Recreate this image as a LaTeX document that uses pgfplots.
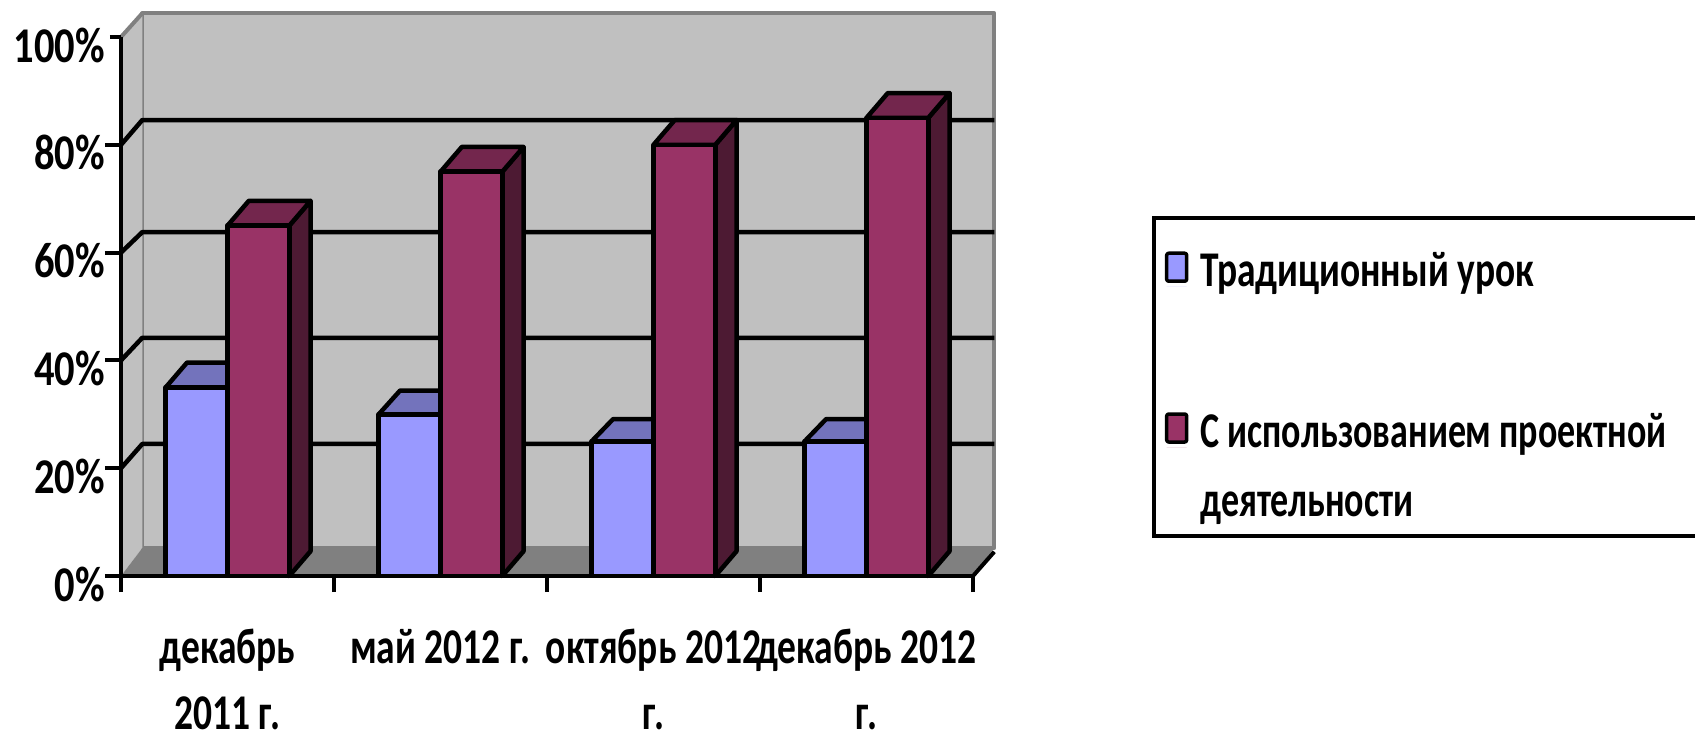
\documentclass[border=0pt]{standalone}
\usepackage{fontspec}
\setmainfont{Carlito}[BoldFont=Carlito Bold]
\usepackage{pgfplots}
\usepackage{pgfplotstable}
\pgfplotsset{compat=1.18}

\definecolor{wall}{HTML}{C0C0C0}
\definecolor{floorc}{HTML}{808080}
\definecolor{bluef}{HTML}{9999FF}
\definecolor{bluet}{HTML}{7373BC}
\definecolor{redf}{HTML}{993366}
\definecolor{redt}{HTML}{73264D}
\definecolor{reds}{HTML}{4D1A33}

\newcommand{\lbl}[1]{\scalebox{0.81}[1]{#1}}
\newcommand{\two}[2]{\raisebox{0pt}[\height][0pt]{\scalebox{0.75}[1]{\begin{tabular}[t]{@{}c@{}}#1\\#2\end{tabular}}}}

\pgfplotstableread{
x   trad  proj
0.5 35    65
1.5 30    75
2.5 25    80
3.5 25    85
}\shares

\begin{document}
\begin{tikzpicture}[x=1pt,y=1pt]
\path[use as bounding box] (0,0) rectangle (1695,740);
\begin{axis}[
    at={(121pt,164pt)}, anchor=south west,
    width=852pt, height=539pt, scale only axis,
    xmin=0, xmax=4, ymin=0, ymax=100,
    clip=false, axis on top,
    axis x line=bottom, axis y line=left,
    axis line style={-, line width=4.5pt, black},
    every axis plot/.append style={line join=round},
    tick align=outside,
    major tick length=16pt,
    xtick={0,1,2,3,4},
    x tick label as interval,
    xticklabels={\two{декабрь}{2011 г.},\two{май 2012 г.}{},\two{октябрь 2012}{г.},\two{декабрь 2012}{г.}},
    ytick={0,20,40,60,80,100},
    yticklabels={\lbl{0\%},\lbl{20\%},\lbl{40\%},\lbl{60\%},\lbl{80\%},\lbl{100\%}},
    tick style={line width=4pt, black},
    ytick style={shorten <=5pt},
    xticklabel style={inner sep=0pt, anchor=north, yshift=-25.5pt},
    yticklabel style={inner sep=0pt, anchor=east, xshift=0pt, yshift=-8pt},
    every tick label/.append style={font=\fontsize{50}{66}\selectfont\bfseries},
    legend style={
        at={(1.21,0.6675)}, anchor=north west,
        draw=black, line width=4pt, inner xsep=11pt, inner ysep=12pt,
        font=\fontsize{50}{69}\selectfont\bfseries,
        row sep=118pt,
        nodes={inner sep=0pt, text depth=},
        cells={anchor=base west},
    },
    legend image code/.code={
        \path[draw=none] (0pt,0pt) -- (20pt,0pt);
        \path[draw=black, line width=3.5pt, rounded corners=2pt, #1] (0pt,5pt) rectangle (20pt,33pt);
    },
]
% back wall and floor
\addplot[forget plot, fill=wall, draw=floorc, line width=4pt] coordinates {(0.1,5.2) (0.1,104.4) (4.1,104.4) (4.1,5.2)} -- cycle;
\addplot[forget plot, fill=wall, draw=none] coordinates {(0,0) (0.1,5.2) (0.1,104.4) (0,100)} -- cycle;
\addplot[forget plot, draw=floorc, line width=4pt] coordinates {(0,100) (0.1,104.4)};
\addplot[forget plot, fill=floorc, draw=none] coordinates {(0,0) (0.1,5.2) (4.1,5.2) (4,0)} -- cycle;
\addplot[forget plot, black, line width=4pt] coordinates {(4,0) (4.1,4.5)};
% grid on the walls
\addplot[forget plot, black, line width=4.5pt] coordinates {(0,20) (0.1,24.5) (4.1,24.5)};
\addplot[forget plot, black, line width=4.5pt] coordinates {(0,40) (0.1,44.2) (4.1,44.2)};
\addplot[forget plot, black, line width=4.5pt] coordinates {(0,60) (0.1,63.8) (4.1,63.8)};
\addplot[forget plot, black, line width=4.5pt] coordinates {(0,80) (0.1,84.6) (4.1,84.6)};
% blue tops
\addplot[forget plot, fill=bluet, draw=black, line width=4.5pt] coordinates {(0.21,35) (0.31,39.6) (0.6,39.6) (0.5,35)} -- cycle;
\addplot[forget plot, fill=bluet, draw=black, line width=4.5pt] coordinates {(1.21,30) (1.31,34.4) (1.6,34.4) (1.5,30)} -- cycle;
\addplot[forget plot, fill=bluet, draw=black, line width=4.5pt] coordinates {(2.21,25) (2.31,29.1) (2.6,29.1) (2.5,25)} -- cycle;
\addplot[forget plot, fill=bluet, draw=black, line width=4.5pt] coordinates {(3.21,25) (3.31,29.1) (3.6,29.1) (3.5,25)} -- cycle;
\addplot[forget plot, ybar, bar width=0.29, bar shift=-0.145, fill=bluef, draw=black, line width=4.5pt] table[x=x, y=trad] {\shares};
% red sides and tops
\addplot[forget plot, fill=reds, draw=black, line width=4.5pt] coordinates {(0.79,0) (0.89,4.6) (0.89,69.6) (0.79,65)} -- cycle;
\addplot[forget plot, fill=reds, draw=black, line width=4.5pt] coordinates {(1.79,0) (1.89,4.6) (1.89,79.6) (1.79,75)} -- cycle;
\addplot[forget plot, fill=reds, draw=black, line width=4.5pt] coordinates {(2.79,0) (2.89,4.6) (2.89,84.6) (2.79,80)} -- cycle;
\addplot[forget plot, fill=reds, draw=black, line width=4.5pt] coordinates {(3.79,0) (3.89,4.6) (3.89,89.6) (3.79,85)} -- cycle;
\addplot[forget plot, fill=redt, draw=black, line width=4.5pt] coordinates {(0.5,65) (0.6,69.6) (0.89,69.6) (0.79,65)} -- cycle;
\addplot[forget plot, fill=redt, draw=black, line width=4.5pt] coordinates {(1.5,75) (1.6,79.6) (1.89,79.6) (1.79,75)} -- cycle;
\addplot[forget plot, fill=redt, draw=black, line width=4.5pt] coordinates {(2.5,80) (2.6,84.6) (2.89,84.6) (2.79,80)} -- cycle;
\addplot[forget plot, fill=redt, draw=black, line width=4.5pt] coordinates {(3.5,85) (3.6,89.6) (3.89,89.6) (3.79,85)} -- cycle;
\addplot[forget plot, ybar, bar width=0.29, bar shift=0.145, fill=redf, draw=black, line width=4.5pt] table[x=x, y=proj] {\shares};
% legend
\addlegendimage{fill=bluef}
\addlegendentry{\parbox[t]{520pt}{\rule{0pt}{56pt}\hspace*{12pt}\scalebox{0.75}[1]{Традиционный урок}}}
\addlegendimage{fill=redf}
\addlegendentry{\parbox[t]{520pt}{\hspace*{12pt}\scalebox{0.72}[1]{С использованием проектной}\\\hspace*{12pt}\scalebox{0.72}[1]{деятельности}}}
\end{axis}
\end{tikzpicture}
\end{document}
